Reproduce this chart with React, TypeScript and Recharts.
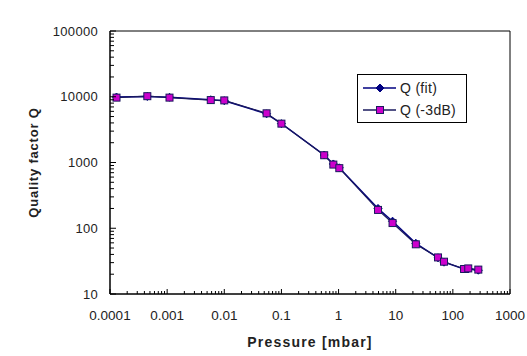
import React from 'react';
import {
  LineChart,
  Line,
  XAxis,
  YAxis,
  Legend,
  Label,
  ReferenceArea
} from 'recharts';

// pressure [mbar] of each measurement
const pressure = [0.00013, 0.00045, 0.0011, 0.0058, 0.01, 0.055, 0.1, 0.56, 0.81, 1.03, 4.9, 8.8, 22.5, 55, 70, 157, 186, 279];
// quality factor from the fit
const qFit = [9900, 10100, 9800, 9000, 8700, 5500, 3900, 1300, 950, 830, 200, 128, 59, 35.5, 30.5, 24, 24, 23];
// quality factor from the -3dB bandwidth
const q3dB = [9700, 10200, 9700, 8900, 8800, 5600, 3900, 1290, 930, 820, 190, 120, 57, 36, 31, 24, 24.5, 23.5];

const xMajor = [0.0001, 0.001, 0.01, 0.1, 1, 10, 100, 1000];
const xLabels = ['0.0001', '0.001', '0.01', '0.1', '1', '10', '100', '1000'];
const yMajor = [10, 100, 1000, 10000, 100000];
const yLabels = ['10', '100', '1000', '10000', '100000'];
const minorSteps = [2, 3, 4, 5, 6, 7, 8, 9];

const withMinor = (majors: number[]) => {
  const out = [...majors];
  majors.slice(0, -1).forEach((m) => minorSteps.forEach((s) => out.push(m * s)));
  return out.sort((a, b) => a - b);
};

const xTicks = withMinor(xMajor);
const yTicks = withMinor(yMajor);

const fitData = pressure.map((p, i) => ({ p, q: qFit[i] }));
const dbData = pressure.map((p, i) => ({ p, q: q3dB[i] }));

const FONT = 'Arial, "Liberation Sans", sans-serif';
const NAVY = '#000080';
const MAGENTA = '#cc00cc';
const DARK = '#1a1a5e';

const majorIndex = (list: number[], v: number) => list.findIndex((m) => Math.abs(m - v) / m < 1e-6);

function XTick(props: any) {
  const { x, y, payload } = props;
  const idx = majorIndex(xMajor, payload.value);
  return (
    <g>
      <line x1={x} x2={x} y1={y} y2={y - (idx >= 0 ? 5 : 3)} stroke="#000" strokeWidth={1} />
      {idx >= 0 && (
        <text x={x} y={y + 21} textAnchor="middle" dominantBaseline="central" fontSize={13.5} fontFamily={FONT} fill="#222">
          {xLabels[idx]}
        </text>
      )}
    </g>
  );
}

function YTick(props: any) {
  const { x, y, payload } = props;
  const idx = majorIndex(yMajor, payload.value);
  return (
    <g>
      <line x1={x} x2={x + (idx >= 0 ? 6 : 4)} y1={y} y2={y} stroke="#000" strokeWidth={1} />
      {idx >= 0 && (
        <text x={x - 12} y={y} textAnchor="end" dominantBaseline="central" fontSize={13} fontFamily={FONT} fill="#222" letterSpacing={0.3}>
          {yLabels[idx]}
        </text>
      )}
    </g>
  );
}

function Diamond(props: any) {
  const { cx, cy } = props;
  if (cx == null || cy == null) return <g />;
  const r = 4;
  return <path d={`M${cx},${cy - r}L${cx + r},${cy}L${cx},${cy + r}L${cx - r},${cy}Z`} fill={NAVY} stroke={NAVY} />;
}

function Square(props: any) {
  const { cx, cy } = props;
  if (cx == null || cy == null) return <g />;
  return <rect x={cx - 3.5} y={cy - 3.5} width={7} height={7} fill={MAGENTA} stroke={DARK} strokeWidth={1} />;
}

function LegendBox() {
  const row = (label: string, marker: React.ReactNode, color: string) => (
    <div style={{ display: 'flex', alignItems: 'center', height: 22 }}>
      <svg width={40} height={12}>
        <line x1={5} x2={38} y1={6} y2={6} stroke={color} strokeWidth={1.5} />
        {marker}
      </svg>
      <span style={{ fontFamily: FONT, fontSize: 14, color: '#222', letterSpacing: 0.3, marginLeft: 2 }}>{label}</span>
    </div>
  );
  return (
    <div style={{ border: '1px solid #000', background: '#fff', width: 110, height: 49, boxSizing: 'border-box', padding: '2px 0 0 0' }}>
      {row('Q (fit)', <Diamond cx={22} cy={6} />, NAVY)}
      {row('Q (-3dB)', <Square cx={22} cy={6} />, DARK)}
    </div>
  );
}

export default function App() {
  return (
    <div style={{ position: 'absolute', left: 0, top: 0, width: 527, height: 356, background: '#fff' }}>
      <LineChart width={527} height={356} margin={{ top: 31, right: 17, bottom: 0, left: 0 }}>
        <XAxis
          dataKey="p"
          type="number"
          scale="log"
          domain={[0.0001, 1000]}
          allowDataOverflow
          ticks={xTicks}
          interval={0}
          tick={<XTick />}
          tickSize={0}
          tickMargin={0}
          tickLine={false}
          axisLine={{ stroke: '#000' }}
          height={62}
        >
          <Label
            content={(p: any) => {
              const vb = p.viewBox || { x: 110, y: 294, width: 400 };
              return (
                <text x={vb.x + vb.width / 2} y={vb.y + 48} textAnchor="middle" dominantBaseline="central" fontSize={14} fontWeight="bold" fontFamily={FONT} fill="#222" letterSpacing={1.2}>
                  Pressure [mbar]
                </text>
              );
            }}
          />
        </XAxis>
        <YAxis
          dataKey="q"
          type="number"
          scale="log"
          domain={[10, 100000]}
          allowDataOverflow
          ticks={yTicks}
          interval={0}
          tick={<YTick />}
          tickSize={0}
          tickMargin={0}
          tickLine={false}
          axisLine={{ stroke: '#000' }}
          width={110}
        >
          <Label
            content={(p: any) => {
              const vb = p.viewBox || { x: 0, y: 31, height: 263 };
              const cy = vb.y + vb.height / 2;
              return (
                <text x={33} y={cy} transform={`rotate(-90 33 ${cy})`} textAnchor="middle" dominantBaseline="central" fontSize={13} fontWeight="bold" fontFamily={FONT} fill="#222" letterSpacing={0.8}>
                  Quality factor Q
                </text>
              );
            }}
          />
        </YAxis>
        <ReferenceArea x1={0.0001} x2={1000} y1={10} y2={100000} fill="none" stroke="#000" strokeWidth={1} ifOverflow="visible" />
        <Line
          data={fitData}
          dataKey="q"
          name="Q (fit)"
          stroke={NAVY}
          strokeWidth={1.5}
          dot={<Diamond />}
          activeDot={false}
          isAnimationActive={false}
        />
        <Line
          data={dbData}
          dataKey="q"
          name="Q (-3dB)"
          stroke={DARK}
          strokeWidth={1.2}
          dot={<Square />}
          activeDot={false}
          isAnimationActive={false}
        />
        <Legend
          layout="horizontal"
          verticalAlign="middle"
          align="center"
          content={() => <LegendBox />}
          wrapperStyle={{ position: 'absolute', left: 357, top: 74, width: 110, height: 49 }}
        />
      </LineChart>
    </div>
  );
}
